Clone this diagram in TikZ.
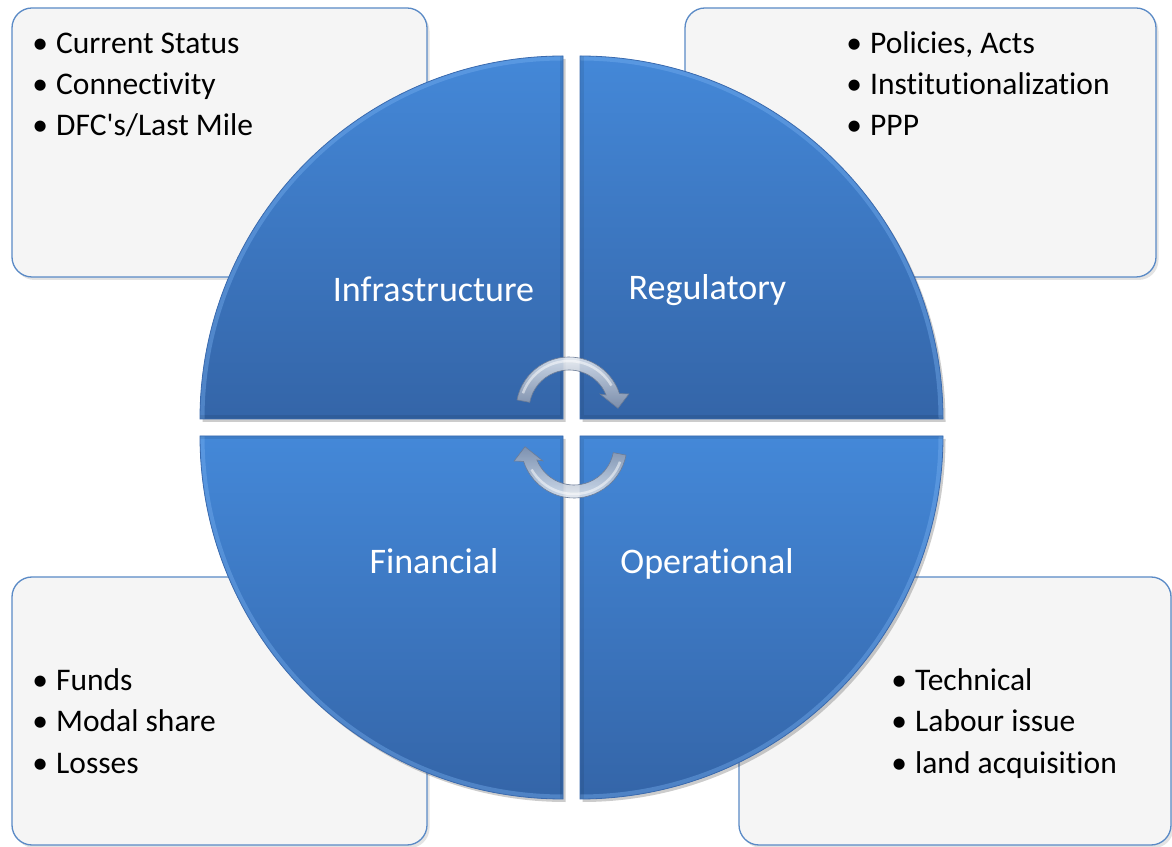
\documentclass[tikz,border=0pt]{standalone}
\usepackage{fontspec}
\setmainfont{Carlito}[Ligatures={NoCommon}]
\usetikzlibrary{shadows}

\definecolor{boxfill}{HTML}{F5F5F5}
\definecolor{boxline}{HTML}{5A8AC6}
\definecolor{wedgetop}{HTML}{4488D8}
\definecolor{wedgebot}{HTML}{3465A8}
\definecolor{rim}{HTML}{78B0F0}
\definecolor{wedgeedge}{HTML}{3A6AAE}
\definecolor{arrowlight}{HTML}{EAEFF5}
\definecolor{arrowdark}{HTML}{8593AB}
\definecolor{arrowline}{HTML}{6C7C96}

\tikzset{
  infobox/.style={draw=boxline, line width=1.3pt, fill=boxfill,
    rounded corners=20pt, inner sep=0pt, outer sep=0pt,
    drop shadow={shadow xshift=2.5pt, shadow yshift=-3pt, opacity=0.22}},
  listitem/.style={anchor=base west, inner sep=0pt, text=black,
    font=\fontsize{31.5pt}{41pt}\selectfont},
  quadlabel/.style={anchor=base, inner sep=0pt, text=white,
    font=\fontsize{36pt}{43pt}\selectfont},
  arrowrim/.style={draw=arrowline, line width=0.6pt},
}
\newcommand{\bul}{\makebox[32pt][c]{\textbullet}}
% curved arrow around a centre; #1 turns it by a multiple of 90 degrees
\newcommand{\cyclearrow}[1]{(169+#1:53) arc[start angle=169+#1, end angle=18+#1, radius=53]
  -- (15+#1:62) -- (2+#1:49) -- (27+#1:35) -- (22+#1:40)
  arc[start angle=22+#1, end angle=169+#1, radius=40] -- cycle}

\begin{document}
\begin{tikzpicture}[x=1pt, y=1pt]
\useasboundingbox (0,0) rectangle (1172,846);
\fill[white] (0,0) rectangle (1172,846);

% corner boxes with the bullet lists
\node[infobox, minimum width=415pt, minimum height=269pt] (boxInfra) at (219.5,703.5) {};
\node[infobox, minimum width=471pt, minimum height=269pt] (boxReg) at (920.5,703.5) {};
\node[infobox, minimum width=415pt, minimum height=268pt] (boxFin) at (219.5,135) {};
\node[infobox, minimum width=432pt, minimum height=268pt] (boxOps) at (955,135) {};

% the four quarter discs
\foreach \cx/\cy/\a in {563/427/90, 580/427/0, 563/410/180, 580/410/270}{
  \begin{scope}[shift={(2.5,-3)}]
    \fill[black, opacity=0.2] (\cx,\cy) -- ++(\a:363)
      arc[start angle=\a, end angle=\a+90, radius=363] -- cycle;
  \end{scope}
  \shade[top color=wedgetop, bottom color=wedgebot] (\cx,\cy) -- ++(\a:363)
    arc[start angle=\a, end angle=\a+90, radius=363] -- cycle;
  \begin{scope}
    \clip (\cx,\cy) -- ++(\a:363)
      arc[start angle=\a, end angle=\a+90, radius=363] -- cycle;
    \draw[rim, line width=9pt, opacity=0.4] (\cx,\cy) ++(\a:363)
      arc[start angle=\a, end angle=\a+90, radius=363];
    \draw[black, line width=7pt, opacity=0.08] (\cx,\cy) ++(\a:363) -- (\cx,\cy) -- ++(\a+90:363);
  \end{scope}
  \draw[wedgeedge, line width=0.8pt] (\cx,\cy) -- ++(\a:363)
    arc[start angle=\a, end angle=\a+90, radius=363] -- cycle;
}

% quadrant titles
\node[quadlabel] (infra) at (433.5,544.5) {Infrastructure};
\node[quadlabel] (reg) at (707.5,546) {Regulatory};
\node[quadlabel] (fin) at (434,272) {Financial};
\node[quadlabel] (ops) at (707,272) {Operational};

% bullet lists
\node[listitem] (infra1) at (24,792) {\bul Current Status};
\node[listitem] (infra2) at (24,751) {\bul Connectivity};
\node[listitem] (infra3) at (24,710) {\bul DFC\textquotesingle s/Last Mile};

\node[listitem] (reg1) at (838,792) {\bul Policies, Acts};
\node[listitem] (reg2) at (838,751) {\bul Institutionalization};
\node[listitem] (reg3) at (838,710) {\bul PPP};

\node[listitem] (fin1) at (24,155) {\bul Funds};
\node[listitem] (fin2) at (24,114) {\bul Modal share};
\node[listitem] (fin3) at (24,73) {\bul Losses};

\node[listitem] (ops1) at (883,155) {\bul Technical};
\node[listitem] (ops2) at (883,114) {\bul Labour issue};
\node[listitem] (ops3) at (883,73) {\bul land acquisition};

% the two curved arrows in the middle
\begin{scope}[shift={(569,436)}]
  \shade[top color=arrowlight, bottom color=arrowdark, opacity=0.88] \cyclearrow{0};
  \draw[white, line width=2.5pt, opacity=0.5] (160:49) arc[start angle=160, end angle=30, radius=49];
  \draw[arrowrim] \cyclearrow{0};
\end{scope}
\begin{scope}[shift={(574,401)}]
  \shade[top color=arrowdark, bottom color=arrowlight, opacity=0.88] \cyclearrow{180};
  \draw[white, line width=2.5pt, opacity=0.5] (340:49) arc[start angle=340, end angle=210, radius=49];
  \draw[arrowrim] \cyclearrow{180};
\end{scope}
\end{tikzpicture}
\end{document}
